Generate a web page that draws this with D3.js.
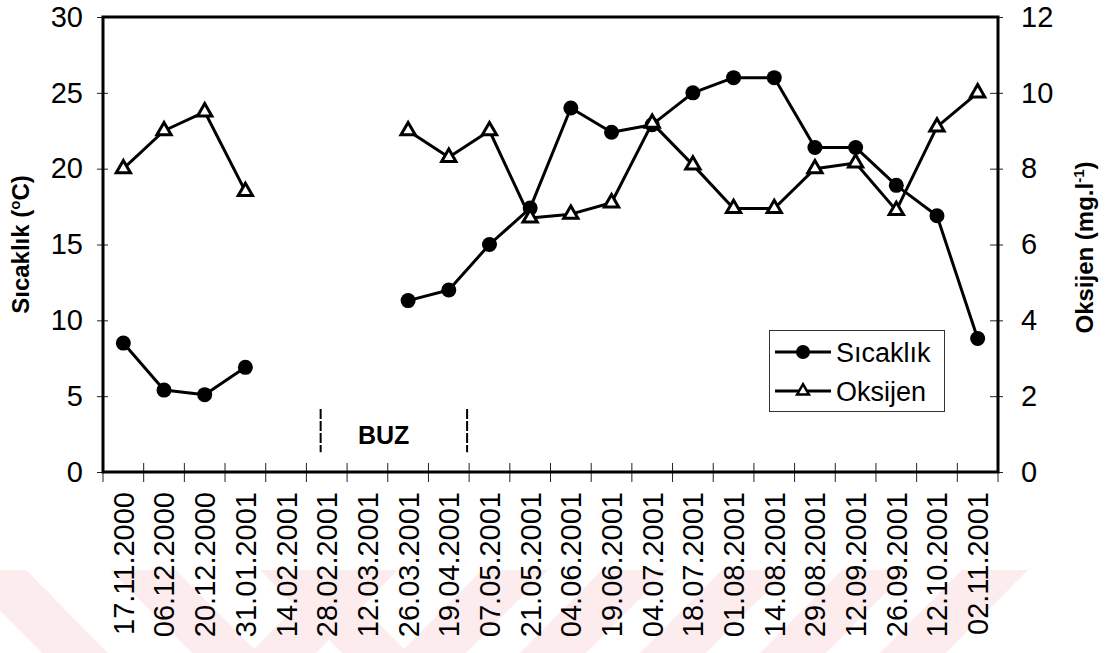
<!DOCTYPE html>
<html>
<head>
<meta charset="utf-8">
<script src="https://cdn.jsdelivr.net/npm/d3@7"></script>
<style>
  html, body { margin: 0; padding: 0; background: #fff; }
  svg { display: block; font-family: Arial, "Liberation Sans", sans-serif; }
</style>
</head>
<body>
<svg id="chart" width="1116" height="653"></svg>
<script>
// Sampling dates
const dates = ["17.11.2000","06.12.2000","20.12.2000","31.01.2001","14.02.2001","28.02.2001",
  "12.03.2001","26.03.2001","19.04.2001","07.05.2001","21.05.2001","04.06.2001","19.06.2001",
  "04.07.2001","18.07.2001","01.08.2001","14.08.2001","29.08.2001","12.09.2001","26.09.2001",
  "12.10.2001","02.11.2001"];

// Water temperature (°C); null = no sampling (ice cover)
const temperature = [8.5, 5.4, 5.1, 6.9, null, null, null, 11.3, 12.0, 15.0, 17.4, 24.0, 22.4,
  22.9, 25.0, 26.0, 26.0, 21.4, 21.4, 18.9, 16.9, 8.8];

// Dissolved oxygen (mg/l)
const oxygen = [8.0, 9.0, 9.5, 7.4, null, null, null, 9.0, 8.3, 9.0, 6.7, 6.8, 7.1,
  9.2, 8.1, 6.95, 6.95, 8.0, 8.15, 6.9, 9.1, 10.0];

const tempTicks = [0, 5, 10, 15, 20, 25, 30];
const oxyTicks = [0, 2, 4, 6, 8, 10, 12];

// Ice-cover period, in category-index units, and marker heights on the temperature axis
const icePeriod = [5.35, 8.95];
const iceMarkRange = [1.3, 4.15];
const iceLabel = "BUZ";

const svg = d3.select("#chart");
const plotLeft = 103, plotRight = 998, plotTop = 17, plotBottom = 472;

// Faint background stamp along the bottom edge
const stamp = svg.append("g").attr("fill", "#fdecee");
const sTop = 570, sBot = 653, slant = 82, sw = 66;
const downStripes = [0, 150, 300];
const upStripes = [250, 400, 520, 640, 760, 880];
downStripes.forEach(x0 => {
  stamp.append("path").attr("d",
    `M${x0 - 40},${sTop} L${x0 - 40 + sw},${sTop} L${x0 - 40 + sw + slant},${sBot} L${x0 - 40 + slant},${sBot} Z`);
});
upStripes.forEach(x0 => {
  stamp.append("path").attr("d",
    `M${x0},${sBot} L${x0 + sw},${sBot} L${x0 + sw + slant},${sTop} L${x0 + slant},${sTop} Z`);
});

// Scales
const x = d3.scaleBand().domain(dates).range([plotLeft, plotRight]).padding(0);
const idx = d3.scaleLinear().domain([0, dates.length]).range([plotLeft, plotRight]);
const yT = d3.scaleLinear().domain([0, 30]).range([plotBottom, plotTop]);
const yO = d3.scaleLinear().domain([0, 12]).range([plotBottom, plotTop]);
const cx = d => x(d) + x.bandwidth() / 2;

// Left axis
const gL = svg.append("g").attr("transform", `translate(${plotLeft},0)`)
  .call(d3.axisLeft(yT).tickValues(tempTicks).tickSize(6).tickPadding(14));
gL.select(".domain").remove();
gL.selectAll(".tick line").attr("x1", -6).attr("x2", 5).attr("stroke", "#222").attr("stroke-width", 1);
gL.selectAll(".tick text").attr("font-size", 29).attr("fill", "#000")
  .attr("font-family", "Arial, 'Liberation Sans', sans-serif").attr("x", -20);

// Right axis
const gR = svg.append("g").attr("transform", `translate(${plotRight},0)`)
  .call(d3.axisRight(yO).tickValues(oxyTicks).tickSize(6).tickPadding(14));
gR.select(".domain").remove();
gR.selectAll(".tick line").attr("x1", -8).attr("x2", 5).attr("stroke", "#222").attr("stroke-width", 1);
gR.selectAll(".tick text").attr("font-size", 29).attr("fill", "#000")
  .attr("font-family", "Arial, 'Liberation Sans', sans-serif").attr("x", 23);

// Bottom axis: tick marks at category boundaries, labels at centers
const gB = svg.append("g").attr("transform", `translate(0,${plotBottom})`)
  .call(d3.axisBottom(x).tickSize(0).tickPadding(0));
gB.select(".domain").remove();
gB.selectAll(".tick text")
  .attr("font-size", 29).attr("fill", "#000")
  .attr("font-family", "Arial, 'Liberation Sans', sans-serif")
  .attr("text-anchor", "end")
  .attr("transform", "rotate(-90)")
  .attr("x", -20).attr("y", 0).attr("dy", "0.36em");
svg.append("g").selectAll("line")
  .data(d3.range(dates.length + 1))
  .join("line")
  .attr("x1", i => idx(i)).attr("x2", i => idx(i))
  .attr("y1", plotBottom - 9).attr("y2", plotBottom + 10)
  .attr("stroke", "#222").attr("stroke-width", 1);

// Plot frame
svg.append("rect")
  .attr("x", plotLeft).attr("y", plotTop)
  .attr("width", plotRight - plotLeft).attr("height", plotBottom - plotTop)
  .attr("fill", "none").attr("stroke", "#000").attr("stroke-width", 3);

// Axis titles
svg.append("text")
  .attr("transform", `translate(29,${(plotTop + plotBottom) / 2}) rotate(-90)`)
  .attr("text-anchor", "middle").attr("font-size", 24).attr("font-weight", "bold")
  .call(t => {
    t.append("tspan").text("Sıcaklık (");
    t.append("tspan").attr("font-size", 15).attr("dy", -9).text("o");
    t.append("tspan").attr("dy", 9).text("C)");
  });
svg.append("text")
  .attr("transform", `translate(1093,${(plotTop + plotBottom) / 2 + 3}) rotate(-90)`)
  .attr("text-anchor", "middle").attr("font-size", 24).attr("font-weight", "bold")
  .call(t => {
    t.append("tspan").text("Oksijen (mg.l");
    t.append("tspan").attr("font-size", 15).attr("dy", -9).text("-1");
    t.append("tspan").attr("dy", 9).text(")");
  });

// Ice-cover markers
svg.append("g").selectAll("line")
  .data(icePeriod)
  .join("line")
  .attr("x1", d => idx(d)).attr("x2", d => idx(d))
  .attr("y1", yT(iceMarkRange[1])).attr("y2", yT(iceMarkRange[0]))
  .attr("stroke", "#000").attr("stroke-width", 2).attr("stroke-dasharray", "10,2");
svg.append("text")
  .attr("x", idx(6.9)).attr("y", yT(2.45)).attr("dy", "0.36em")
  .attr("text-anchor", "middle").attr("font-size", 25).attr("font-weight", "bold")
  .text(iceLabel);

// Series lines
const lineOf = (yScale) => d3.line()
  .defined(d => d[1] != null)
  .x(d => cx(d[0])).y(d => yScale(d[1]));
const tData = dates.map((d, i) => [d, temperature[i]]);
const oData = dates.map((d, i) => [d, oxygen[i]]);

svg.append("path").datum(oData).attr("d", lineOf(yO))
  .attr("fill", "none").attr("stroke", "#000").attr("stroke-width", 3).attr("stroke-linejoin", "round");
svg.append("path").datum(tData).attr("d", lineOf(yT))
  .attr("fill", "none").attr("stroke", "#000").attr("stroke-width", 3).attr("stroke-linejoin", "round");

// Markers
const tri = d3.symbol().type(d3.symbolTriangle).size(88);
svg.append("g").selectAll("circle")
  .data(tData.filter(d => d[1] != null))
  .join("circle")
  .attr("cx", d => cx(d[0])).attr("cy", d => yT(d[1])).attr("r", 7.5)
  .attr("fill", "#000");
svg.append("g").selectAll("path")
  .data(oData.filter(d => d[1] != null))
  .join("path")
  .attr("d", tri)
  .attr("transform", d => `translate(${cx(d[0])},${yO(d[1])})`)
  .attr("fill", "#fff").attr("stroke", "#000").attr("stroke-width", 3);

// Legend
const lg = svg.append("g");
lg.append("rect").attr("x", 769.5).attr("y", 330.5).attr("width", 175).attr("height", 81)
  .attr("fill", "#fff").attr("stroke", "#333").attr("stroke-width", 1);
const legendItems = [
  { name: "Sıcaklık", kind: "circle", y: 352 },
  { name: "Oksijen", kind: "triangle", y: 391 }
];
legendItems.forEach(it => {
  lg.append("line").attr("x1", 775).attr("x2", 831).attr("y1", it.y).attr("y2", it.y)
    .attr("stroke", "#000").attr("stroke-width", 3);
  if (it.kind === "circle") {
    lg.append("circle").attr("cx", 803).attr("cy", it.y).attr("r", 7).attr("fill", "#000");
  } else {
    lg.append("path").attr("d", d3.symbol().type(d3.symbolTriangle).size(60))
      .attr("transform", `translate(803,${it.y})`)
      .attr("fill", "#fff").attr("stroke", "#000").attr("stroke-width", 2.5);
  }
  lg.append("text").attr("x", 836).attr("y", it.y).attr("dy", "0.36em")
    .attr("font-size", 27).text(it.name);
});
</script>
</body>
</html>
